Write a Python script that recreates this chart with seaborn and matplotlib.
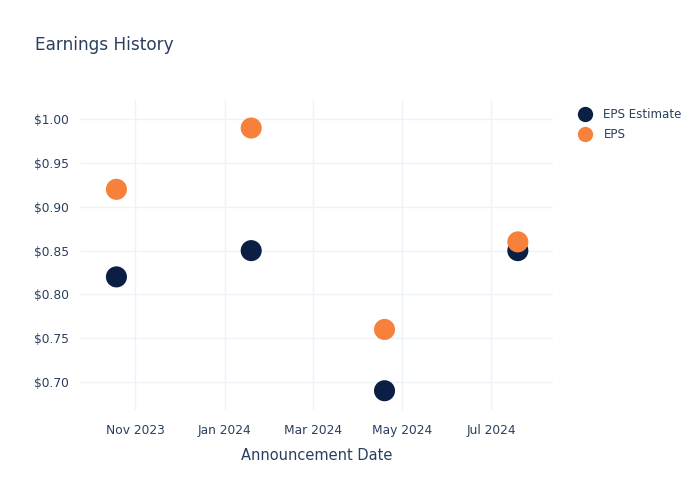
import pandas as pd
import matplotlib.pyplot as plt
import matplotlib.dates as mdates
import matplotlib.ticker as mticker
import seaborn as sns

# DATA
dates = ["2023-10-19", "2024-01-19", "2024-04-19", "2024-07-19"]
eps_estimate = [0.82, 0.85, 0.69, 0.85]
eps_actual = [0.92, 0.99, 0.76, 0.86]
series_names = ["EPS Estimate", "EPS"]

TEXT = "#2a3f5f"
GRID = "#eef2f9"
COLORS = {"EPS Estimate": "#0b1f44", "EPS": "#f7803a"}

df = pd.DataFrame({
    "date": pd.to_datetime(dates * 2),
    "value": eps_estimate + eps_actual,
    "series": [series_names[0]] * 4 + [series_names[1]] * 4,
})

sns.set_style("white")
plt.rcParams['font.family'] = ['DejaVu Sans']

fig = plt.figure(figsize=(7, 5), dpi=100)
ax = fig.add_axes([0.114, 0.18, 0.676, 0.62])

sns.scatterplot(data=df, x="date", y="value", hue="series", palette=COLORS,
                s=230, edgecolor="none", ax=ax, zorder=3, legend=False)

ax.set_xlim(pd.Timestamp("2023-09-24"), pd.Timestamp("2024-08-12"))
ax.set_ylim(0.668, 1.022)

ax.xaxis.set_major_locator(mdates.MonthLocator(bymonth=[1, 3, 5, 7, 9, 11]))
ax.xaxis.set_major_formatter(mdates.DateFormatter("%b %Y"))
ax.yaxis.set_major_locator(mticker.MultipleLocator(0.05))
ax.yaxis.set_major_formatter(mticker.FuncFormatter(lambda v, p: f"${v:.2f}"))

ax.grid(True, color=GRID, linewidth=1)
ax.set_axisbelow(True)
for spine in ax.spines.values():
    spine.set_visible(False)
ax.tick_params(axis="x", length=0, labelsize=8.8, labelcolor=TEXT, pad=10)
ax.tick_params(axis="y", length=0, labelsize=8.8, labelcolor=TEXT, pad=8)

ax.set_xlabel("Announcement Date", fontsize=10.5, color=TEXT, labelpad=8)
ax.set_ylabel("")

fig.text(0.05, 0.90, "Earnings History", fontsize=12.2, color=TEXT)

handles = [plt.Line2D([], [], marker="o", linestyle="none", markersize=11,
                      markerfacecolor=COLORS[n], markeredgecolor="none") for n in series_names]
fig.legend(handles, series_names, loc="upper left", bbox_to_anchor=(0.81, 0.795),
           frameon=False, fontsize=8.6, labelcolor=TEXT, handletextpad=0.55,
           labelspacing=0.55, borderpad=0)

fig.savefig("out.png", dpi=100)
